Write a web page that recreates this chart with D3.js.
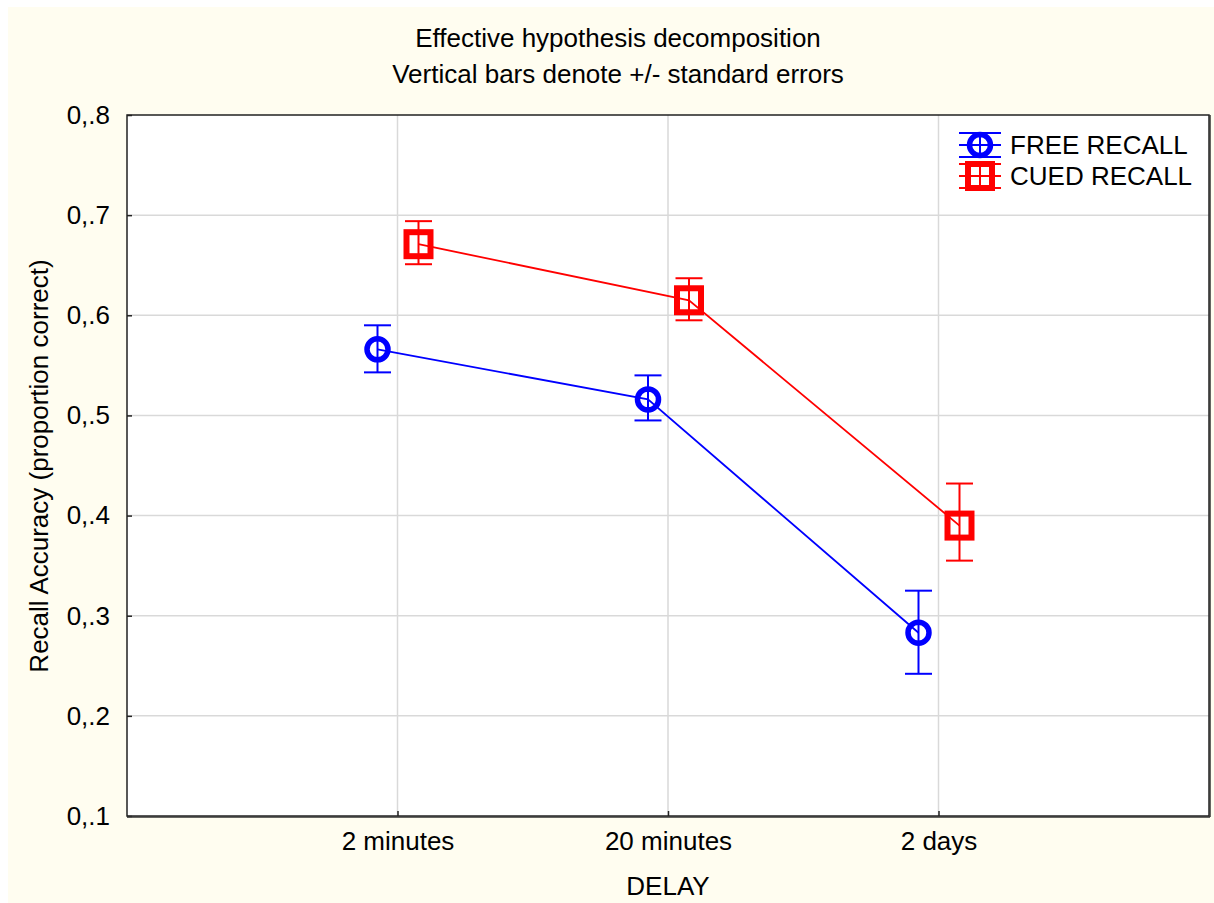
<!DOCTYPE html>
<html><head><meta charset="utf-8">
<script src="https://cdn.jsdelivr.net/npm/d3@7"></script>
<style>
body{margin:0;background:#fff;}
svg{display:block;font-family:"Liberation Sans",Arial,sans-serif;}
</style></head>
<body>
<script>
const categories = ["2 minutes", "20 minutes", "2 days"];
const freeMean = [0.566, 0.516, 0.283];
const freeLow  = [0.543, 0.495, 0.242];
const freeHigh = [0.590, 0.540, 0.325];
const cuedMean = [0.671, 0.615, 0.390];
const cuedLow  = [0.651, 0.595, 0.355];
const cuedHigh = [0.694, 0.637, 0.432];
const yTicks = [0.1, 0.2, 0.3, 0.4, 0.5, 0.6, 0.7, 0.8];
const yTickLabels = ["0,.1","0,.2","0,.3","0,.4","0,.5","0,.6","0,.7","0,.8"];
const seriesNames = ["FREE RECALL", "CUED RECALL"];

const W = 1214, H = 903;
const L = 127, R = 1209, T = 115, B = 816;
const FS = 26;
const svg = d3.select("body").append("svg").attr("width", W).attr("height", H);
svg.append("rect").attr("x", 8).attr("y", 7).attr("width", W - 8).attr("height", H - 7).attr("fill", "#fffdf0");
svg.append("rect").attr("x", L).attr("y", T).attr("width", R - L).attr("height", B - T).attr("fill", "#fff");

const x = d3.scalePoint().domain(["", ...categories, " "]).range([L, R]);
const y = d3.scaleLinear().domain([0.1, 0.8]).range([B, T]);

// grid
const g = svg.append("g");
g.selectAll(".hg").data(yTicks.slice(1, -1)).join("line")
  .attr("x1", L).attr("x2", R).attr("y1", d => y(d)).attr("y2", d => y(d))
  .attr("stroke", "#d9d9d9").attr("stroke-width", 1.5);
g.selectAll(".vg").data(categories).join("line")
  .attr("x1", d => x(d)).attr("x2", d => x(d)).attr("y1", T).attr("y2", B)
  .attr("stroke", "#d9d9d9").attr("stroke-width", 1.5);

// axes
const yAxis = d3.axisLeft(y).tickValues(yTicks).tickFormat((d, i) => yTickLabels[i]).tickSizeInner(-5).tickSizeOuter(0).tickPadding(17);
const ya = svg.append("g").attr("transform", `translate(${L},0)`).call(yAxis);
ya.select(".domain").remove();
ya.selectAll("line").attr("stroke", "#222").attr("stroke-width", 1.5);
ya.selectAll("text").attr("font-size", FS).attr("fill", "#000").attr("font-family", "Liberation Sans, Arial, sans-serif");

const xAxis = d3.axisBottom(x).tickValues(categories).tickSizeInner(-5).tickSizeOuter(0).tickPadding(16);
const xa = svg.append("g").attr("transform", `translate(0,${B})`).call(xAxis);
xa.select(".domain").remove();
xa.selectAll("line").attr("stroke", "#222").attr("stroke-width", 1.5);
xa.selectAll("text").attr("font-size", FS).attr("fill", "#000").attr("font-family", "Liberation Sans, Arial, sans-serif");

// frame
svg.append("rect").attr("x", L).attr("y", T).attr("width", R - L).attr("height", B - T)
  .attr("fill", "none").attr("stroke", "#222").attr("stroke-width", 1.5);
svg.append("line").attr("x1", L).attr("x2", R + 1).attr("y1", B + 1).attr("y2", B + 1).attr("stroke", "#333").attr("stroke-width", 1.5);
svg.append("line").attr("x1", R + 1).attr("x2", R + 1).attr("y1", T).attr("y2", B + 1).attr("stroke", "#333").attr("stroke-width", 1.5);

// titles
svg.append("text").attr("x", 618).attr("y", 47).attr("text-anchor", "middle").attr("font-size", FS).text("Effective hypothesis decomposition");
svg.append("text").attr("x", 618).attr("y", 83).attr("text-anchor", "middle").attr("font-size", FS).text("Vertical bars denote +/- standard errors");
svg.append("text").attr("x", 668).attr("y", 895).attr("text-anchor", "middle").attr("font-size", FS).text("DELAY");
svg.append("text").attr("transform", "translate(48,466) rotate(-90)").attr("text-anchor", "middle").attr("font-size", FS).text("Recall Accuracy (proportion correct)");

const series = [
  {name: seriesNames[0], mean: freeMean, lo: freeLow, hi: freeHigh, color: "#0000ff", dx: -20, shape: "circle"},
  {name: seriesNames[1], mean: cuedMean, lo: cuedLow, hi: cuedHigh, color: "#ff0000", dx: 21, shape: "square"}
];

function marker(sel, shape, color) {
  if (shape === "circle") {
    sel.append("circle").attr("r", 10.5).attr("fill", "none").attr("stroke", color).attr("stroke-width", 5.5);
  } else {
    sel.append("rect").attr("x", -12).attr("y", -12).attr("width", 24).attr("height", 24)
      .attr("fill", "none").attr("stroke", color).attr("stroke-width", 6);
  }
}

series.forEach(s => {
  const px = i => x(categories[i]) + s.dx;
  const line = d3.line().x((d, i) => px(i)).y(d => y(d));
  svg.append("path").attr("d", line(s.mean)).attr("fill", "none").attr("stroke", s.color).attr("stroke-width", 1.8);
  s.mean.forEach((m, i) => {
    const cx = px(i);
    const eg = svg.append("g").attr("stroke", s.color).attr("stroke-width", 2);
    eg.append("line").attr("x1", cx).attr("x2", cx).attr("y1", y(s.lo[i])).attr("y2", y(s.hi[i]));
    eg.append("line").attr("x1", cx - 13.5).attr("x2", cx + 13.5).attr("y1", y(s.lo[i])).attr("y2", y(s.lo[i]));
    eg.append("line").attr("x1", cx - 13.5).attr("x2", cx + 13.5).attr("y1", y(s.hi[i])).attr("y2", y(s.hi[i]));
    const mg = svg.append("g").attr("transform", `translate(${cx},${y(m)})`);
    marker(mg, s.shape, s.color);
  });
});

// legend
series.forEach((s, i) => {
  const ly = 145 + i * 31;
  const lx = 980;
  const lg = svg.append("g").attr("stroke", s.color).attr("stroke-width", 2);
  lg.append("line").attr("x1", lx - 21).attr("x2", lx + 21).attr("y1", ly - 12).attr("y2", ly - 12);
  lg.append("line").attr("x1", lx - 21).attr("x2", lx + 21).attr("y1", ly + 12).attr("y2", ly + 12);
  lg.append("line").attr("x1", lx - 21).attr("x2", lx + 21).attr("y1", ly).attr("y2", ly);
  lg.append("line").attr("x1", lx).attr("x2", lx).attr("y1", ly - 12).attr("y2", ly + 12);
  const mg = svg.append("g").attr("transform", `translate(${lx},${ly})`);
  marker(mg, s.shape, s.color);
  svg.append("text").attr("x", 1010).attr("y", ly + 9).attr("font-size", FS).text(s.name);
});
</script>
</body></html>
